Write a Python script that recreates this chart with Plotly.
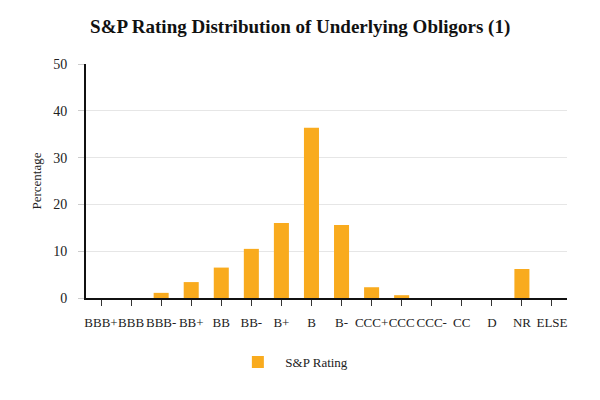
import plotly.graph_objects as go

categories = ["BBB+", "BBB", "BBB-", "BB+", "BB", "BB-", "B+", "B", "B-",
              "CCC+", "CCC", "CCC-", "CC", "D", "NR", "ELSE"]
percentages = [0, 0, 1.1, 3.4, 6.5, 10.5, 16.0, 36.4, 15.6,
               2.3, 0.6, 0, 0, 0, 6.2, 0]
y_ticks = [0, 10, 20, 30, 40, 50]

font_family = "Liberation Serif, Times New Roman, serif"

fig = go.Figure()
fig.add_trace(go.Bar(
    x=categories, y=percentages, name="S&P Rating",
    marker=dict(color="#F9AB1E", line=dict(width=0)),
    width=0.5, showlegend=True,
))

fig.update_layout(
    width=600, height=400,
    margin=dict(l=78, r=41, t=56, b=110, autoexpand=False),
    paper_bgcolor="white", plot_bgcolor="white",
    font=dict(family=font_family, size=13, color="#222"),
    title=dict(text="<b>S&P Rating Distribution of Underlying Obligors (1)</b>",
               x=0.487, xanchor="center", y=0.955, yanchor="middle",
               font=dict(family=font_family, size=19, color="#111")),
    showlegend=True,
    legend=dict(orientation="h", x=0.428, xanchor="center", y=-0.21, yanchor="top",
                font=dict(family=font_family, size=13, color="#222"),
                itemwidth=45),
    xaxis=dict(type="category", range=[-0.5, 15.5], automargin=False,
               tickangle=0,
               showline=True, linecolor="#111", linewidth=2,
               ticks="outside", ticklen=6, tickcolor="#333", tickwidth=1,
               ticklabelstandoff=5,
               tickfont=dict(family=font_family, size=13, color="#222"),
               showgrid=False),
    yaxis=dict(range=[0, 50], tickvals=y_ticks, automargin=False,
               showline=True, linecolor="#111", linewidth=2,
               ticks="outside", ticklen=6, tickcolor="#ccc",
               ticklabelstandoff=8,
               gridcolor="#e6e6e6", gridwidth=1, zeroline=False,
               tickfont=dict(family=font_family, size=14, color="#222"),
               title=dict(text="Percentage", standoff=9,
                          font=dict(family=font_family, size=13, color="#222"))),
)

fig.write_html("out.html")
